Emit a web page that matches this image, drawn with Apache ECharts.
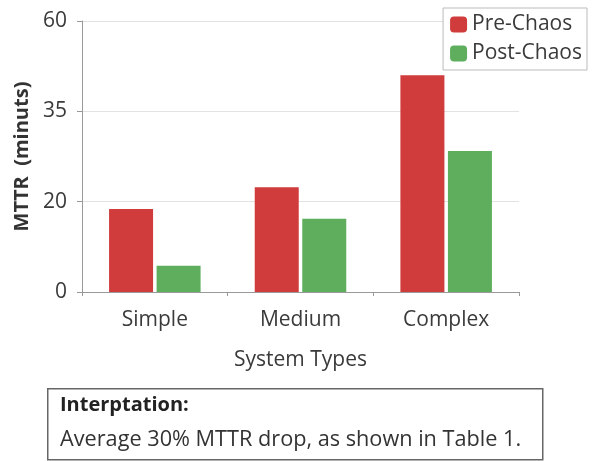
<!DOCTYPE html>
<html>
<head>
<meta charset="utf-8">
<script src="https://cdn.jsdelivr.net/npm/echarts@6/dist/echarts.min.js"></script>
<style>
  html, body { margin: 0; padding: 0; background: #fff; }
  #chart { width: 592px; height: 461px; }
</style>
</head>
<body>
<div id="chart"></div>
<script>
// categories + values
const categories = ["Simple", "Medium", "Complex"];
const preChaos = [18.4, 23.2, 48.0];
const postChaos = [5.8, 16.2, 31.2];
// tick labels as printed on the y axis (evenly spaced)
const yTickLabels = ["0", "20", "35", "60"];

const FONT = "'Open Sans', sans-serif";
const chart = echarts.init(document.getElementById("chart"));

let option = {
  backgroundColor: "#fff",
  animation: false,
  textStyle: { fontFamily: FONT },
  legend: {
    orient: "vertical",
    right: 5,
    top: 8,
    padding: [6, 5, 6, 7],
    itemGap: 8,
    itemWidth: 17,
    itemHeight: 16,
    backgroundColor: "#fff",
    borderColor: "#bbb",
    borderWidth: 1,
    textStyle: { fontSize: 21, color: "#3a3a3a", fontFamily: FONT },
    data: ["Pre-Chaos", "Post-Chaos"],
  },
  grid: { left: 82, right: 73, top: 21, bottom: 169 },
  xAxis: {
    type: "category",
    data: categories,
    name: "System Types",
    nameLocation: "middle",
    nameGap: 58,
    nameTextStyle: { fontSize: 21, color: "#3a3a3a", fontFamily: FONT },
    axisLine: { lineStyle: { color: "#999" } },
    axisTick: { show: true, length: 4, lineStyle: { color: "#999" } },
    axisLabel: { fontSize: 21, color: "#3a3a3a", margin: 18, fontFamily: FONT },
  },
  yAxis: {
    type: "value",
    min: 0,
    max: 60,
    interval: 20,
    name: "MTTR  (minuts)",
    nameLocation: "middle",
    nameGap: 50,
    nameTextStyle: { fontSize: 20, color: "#333", fontWeight: "bold", fontFamily: FONT },
    axisLine: { show: true, lineStyle: { color: "#999" } },
    axisTick: { show: true, length: 5, lineStyle: { color: "#999" } },
    axisLabel: {
      fontSize: 21,
      color: "#3a3a3a",
      margin: 15,
      fontFamily: FONT,
      formatter: (v) => yTickLabels[Math.round(v / 20)],
    },
    splitLine: { lineStyle: { color: "#e2e2e2" } },
  },
  series: [
    {
      name: "Pre-Chaos",
      type: "bar",
      data: preChaos,
      barWidth: 44,
      barGap: "8%",
      itemStyle: { color: "#d03b3b" },
    },
    {
      name: "Post-Chaos",
      type: "bar",
      data: postChaos,
      barWidth: 44,
      itemStyle: { color: "#5eae5e" },
    },
  ],
  graphic: [
    {
      type: "rect",
      left: 47,
      top: 388,
      shape: { width: 495, height: 71 },
      style: { fill: "#fff", stroke: "#666", lineWidth: 1.5 },
    },
    {
      type: "text",
      left: 60,
      top: 395,
      style: { text: "Interptation:", font: "bold 20px " + FONT, fill: "#222" },
    },
    {
      type: "text",
      left: 60,
      top: 429,
      style: { text: "Average 30% MTTR drop, as shown in Table 1.", font: "21.7px " + FONT, fill: "#333" },
    },
  ],
};

chart.setOption(option);
</script>
</body>
</html>
